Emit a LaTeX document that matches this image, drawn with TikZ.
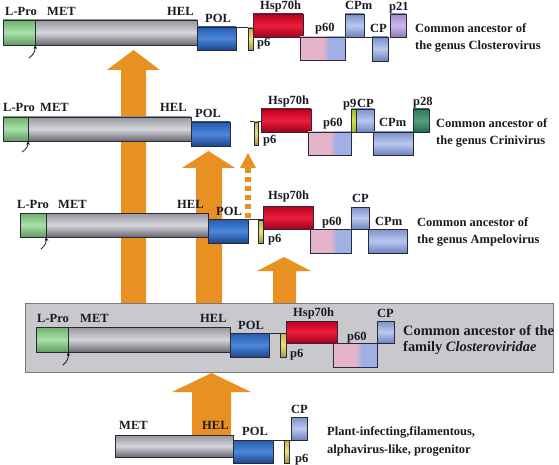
\documentclass[tikz,border=0pt]{standalone}
\usepackage{fontspec}
\setmainfont{Liberation Serif}
\usetikzlibrary{arrows.meta}
\definecolor{orng}{RGB}{233,144,34}
\definecolor{edgec}{RGB}{40,40,55}
\definecolor{txtc}{RGB}{25,25,35}
\definecolor{grnT}{RGB}{110,175,110}
\definecolor{grnM}{RGB}{170,225,170}
\definecolor{grnB}{RGB}{95,155,95}
\definecolor{gryT}{RGB}{150,150,160}
\definecolor{gryM}{RGB}{212,212,218}
\definecolor{gryB}{RGB}{105,105,115}
\definecolor{bluT}{RGB}{40,90,170}
\definecolor{bluM}{RGB}{75,135,220}
\definecolor{bluB}{RGB}{30,70,140}
\definecolor{redT}{RGB}{190,0,30}
\definecolor{redM}{RGB}{235,30,60}
\definecolor{redB}{RGB}{160,0,25}
\definecolor{cpT}{RGB}{125,145,200}
\definecolor{cpM}{RGB}{185,200,240}
\definecolor{cpB}{RGB}{110,130,190}
\definecolor{yelT}{RGB}{190,180,80}
\definecolor{yelM}{RGB}{235,225,130}
\definecolor{yelB}{RGB}{160,150,60}
\definecolor{p9M}{RGB}{205,225,80}
\definecolor{p9B}{RGB}{160,180,50}
\definecolor{purT}{RGB}{160,140,200}
\definecolor{purM}{RGB}{205,185,235}
\definecolor{purB}{RGB}{140,120,185}
\definecolor{p28T}{RGB}{50,120,90}
\definecolor{p28M}{RGB}{85,160,125}
\definecolor{p28B}{RGB}{40,105,80}
\definecolor{p60pink}{RGB}{230,180,200}
\definecolor{p60blue}{RGB}{160,176,230}
\definecolor{famfill}{RGB}{201,201,205}
\definecolor{famedge}{RGB}{120,120,125}
\pgfdeclarehorizontalshading{pinkblue}{100bp}{color(0bp)=(p60pink); color(51bp)=(p60pink); color(57bp)=(p60blue); color(100bp)=(p60blue)}
\newcommand\gn[5]{\node[#1,minimum width=#4pt,minimum height=#5pt] (#2) at (#3) {};}
\newcommand\lb[3]{\node[lab] (#1) at (#2) {#3};}
\newcommand\bigup[7]{\fill[orng] (#1,#7) -- (#1,#6) -- (#3,#6) -- ({(#3+#4)/2},#5) -- (#4,#6) -- (#2,#6) -- (#2,#7) -- cycle;}
\begin{document}
\begin{tikzpicture}[x=1pt,y=-1pt,
  gene/.style={draw=edgec, line width=0.6pt, inner sep=0pt, outer sep=0pt, anchor=north west},
  grn/.style={gene, top color=grnT, bottom color=grnB, middle color=grnM},
  gry/.style={gene, top color=gryT, bottom color=gryB, middle color=gryM},
  blu/.style={gene, top color=bluT, bottom color=bluB, middle color=bluM},
  rdd/.style={gene, top color=redT, bottom color=redB, middle color=redM},
  cpc/.style={gene, top color=cpT, bottom color=cpB, middle color=cpM},
  yel/.style={gene, top color=yelT, bottom color=yelB, middle color=yelM},
  pnine/.style={gene, top color=p9B, bottom color=p9B, middle color=p9M},
  pur/.style={gene, top color=purT, bottom color=purB, middle color=purM},
  ptwe/.style={gene, top color=p28T, bottom color=p28B, middle color=p28M},
  psix/.style={gene, shade, shading=pinkblue},
  conn/.style={draw=edgec, line width=0.6pt},
  lab/.style={font=\fontsize{12.5}{14}\selectfont\bfseries, text=txtc, anchor=base west, inner sep=0pt},
  desc/.style={font=\fontsize{12.5}{15}\selectfont\bfseries, text=txtc, anchor=base west, inner sep=0pt},
  descb/.style={font=\fontsize{14.4}{17}\selectfont\bfseries, text=txtc, anchor=base west, inner sep=0pt},
  smallarr/.style={draw=txtc, line width=0.8pt, -{Stealth[length=4pt,width=3.5pt]}}
]
\useasboundingbox (0,0) rectangle (559,465);
\fill[white] (0,0) rectangle (559,465);

% big orange arrows
\bigup{121}{146}{107}{160}{50}{70}{303}
\bigup{196}{222}{182}{235}{151}{168}{303}
\bigup{273}{296}{257}{311}{257}{271}{303}
\fill[orng] (240,168) -- (248,153) -- (256,168) -- cycle;
\draw[orng, line width=6pt, dash pattern=on 5pt off 4pt] (248,218) -- (248,168);

% family box
\node[draw=famedge, fill=famfill, line width=1pt, inner sep=0pt, anchor=north west, minimum width=528pt, minimum height=69pt] (fam) at (25,303) {};

\bigup{192}{231}{172}{251}{373}{392}{435}

% ---------- Row 1: Closterovirus ----------
\gn{grn}{r1lpro}{3,20}{32}{25}
\gn{gry}{r1bar}{35,20}{162}{25}
\gn{blu}{r1pol}{197,27}{39}{23}
\gn{rdd}{r1hsp}{253,14}{50}{23}
\draw[conn] (r1pol.north east) -- (r1pol.north east -| r1hsp.west);
\gn{yel}{r1p6}{248,28}{5}{22}
\gn{psix}{r1p60}{300,37}{45}{23}
\gn{cpc}{r1cpm}{345,14}{19}{23}
\gn{cpc}{r1cp}{372,37}{16}{24}
\draw[conn] (r1cpm.south east) -- (r1cp.north west);
\gn{pur}{r1p21}{390,14}{16}{23}
\coordinate (r1t) at (29,58);
\draw[smallarr] (r1t) to[bend right=30] (r1bar.south west);
\lb{r1a}{5,16}{L-Pro}
\lb{r1b}{47,16}{MET}
\lb{r1c}{167,16}{HEL}
\lb{r1d}{205,23}{POL}
\lb{r1e}{260,10}{Hsp70h}
\lb{r1f}{257,47}{p6}
\lb{r1g}{315,32}{p60}
\lb{r1h}{345,10}{CPm}
\lb{r1i}{370,33}{CP}
\lb{r1j}{389,11}{p21}
\node[desc] (r1x) at (415,33) {Common ancestor of};
\node[desc] (r1y) at (415,50) {the genus Closterovirus};

% ---------- Row 2: Crinivirus ----------
\gn{grn}{r2lpro}{3,117}{25}{24}
\gn{gry}{r2bar}{28,117}{163}{24}
\gn{blu}{r2pol}{191,122}{39}{24}
\gn{rdd}{r2hsp}{261,109}{50}{23}
\coordinate (r2tk) at (250,121);
\draw[conn] (r2tk) -- (r2tk -| r2hsp.west);
\gn{yel}{r2p6}{254,122}{4}{23}
\gn{psix}{r2p60}{308,132}{43}{23}
\gn{pnine}{r2p9}{351,109}{5}{23}
\gn{cpc}{r2cp}{356,109}{18}{23}
\gn{cpc}{r2cpm}{373,132}{40}{23}
\gn{ptwe}{r2p28}{413,109}{16}{23}
\coordinate (r2t) at (22,152);
\draw[smallarr] (r2t) to[bend right=30] (r2bar.south west);
\lb{r2a}{3,112}{L-Pro}
\lb{r2b}{40,112}{MET}
\lb{r2c}{160,112}{HEL}
\lb{r2d}{195,118}{POL}
\lb{r2e}{268,105}{Hsp70h}
\lb{r2f}{263,144}{p6}
\lb{r2g}{343,108}{p9}
\lb{r2h}{357,108}{CP}
\lb{r2i}{413,106}{p28}
\lb{r2j}{323,127}{p60}
\lb{r2k}{379,127}{CPm}
\node[desc] (r2x) at (436,128) {Common ancestor of};
\node[desc] (r2y) at (436,145) {the genus Crinivirus};

% ---------- Row 3: Ampelovirus ----------
\gn{grn}{r3lpro}{20,213}{26}{24}
\gn{gry}{r3bar}{46,213}{162}{24}
\gn{blu}{r3pol}{208,219}{40}{24}
\gn{rdd}{r3hsp}{263,206}{50}{23}
\draw[conn] (r3pol.north east) -- (r3pol.north east -| r3hsp.west);
\gn{yel}{r3p6}{258,220}{5}{23}
\gn{psix}{r3p60}{310,229}{41}{24}
\gn{cpc}{r3cp}{351,207}{18}{22}
\gn{cpc}{r3cpm}{368,229}{39}{24}
\coordinate (r3t) at (41,249);
\draw[smallarr] (r3t) to[bend right=30] (r3bar.south west);
\lb{r3a}{17,208}{L-Pro}
\lb{r3b}{58,208}{MET}
\lb{r3c}{177,208}{HEL}
\lb{r3d}{216,215}{POL}
\lb{r3e}{268,200}{Hsp70h}
\lb{r3f}{268,242}{p6}
\lb{r3g}{322,225}{p60}
\lb{r3h}{352,203}{CP}
\lb{r3i}{375,225}{CPm}
\node[desc] (r3x) at (417,226) {Common ancestor of};
\node[desc] (r3y) at (417,243) {the genus Ampelovirus};

% ---------- Row 4: family ----------
\gn{grn}{r4lpro}{36,327}{32}{25}
\gn{gry}{r4bar}{68,327}{162}{25}
\gn{blu}{r4pol}{230,333}{39}{24}
\gn{rdd}{r4hsp}{286,321}{51}{22}
\draw[conn] (r4pol.north east) -- (r4pol.north east -| r4hsp.west);
\gn{yel}{r4p6}{280,333}{6}{24}
\gn{psix}{r4p60}{333,343}{44}{24}
\gn{cpc}{r4cp}{377,321}{17}{22}
\coordinate (r4t) at (63,365);
\draw[smallarr] (r4t) to[bend right=30] (r4bar.south west);
\lb{r4a}{37,322}{L-Pro}
\lb{r4b}{80,322}{MET}
\lb{r4c}{200,322}{HEL}
\lb{r4d}{238,329}{POL}
\lb{r4e}{293,316}{Hsp70h}
\lb{r4f}{290,357}{p6}
\lb{r4g}{347,340}{p60}
\lb{r4h}{377,317}{CP}
\node[descb] (r4x) at (403,335) {Common ancestor of the};
\node[descb] (r4y) at (403,351) {family \textit{Closteroviridae}};

% ---------- Row 5: progenitor ----------
\gn{gry}{r5bar}{115,435}{118}{22}
\gn{blu}{r5pol}{233,440}{40}{23}
\gn{cpc}{r5cp}{291,417}{16}{23}
\draw[conn] (r5pol.north east) -- (r5cp.south west);
\gn{yel}{r5p6}{284,440}{5}{23}
\lb{r5a}{119,429}{MET}
\lb{r5b}{202,429}{HEL}
\lb{r5c}{242,435}{POL}
\lb{r5d}{291,413}{CP}
\lb{r5e}{295,462}{p6}
\node[desc] (r5x) at (327,435) {Plant-infecting,filamentous,};
\node[desc] (r5y) at (327,453) {alphavirus-like, progenitor};
\end{tikzpicture}
\end{document}
